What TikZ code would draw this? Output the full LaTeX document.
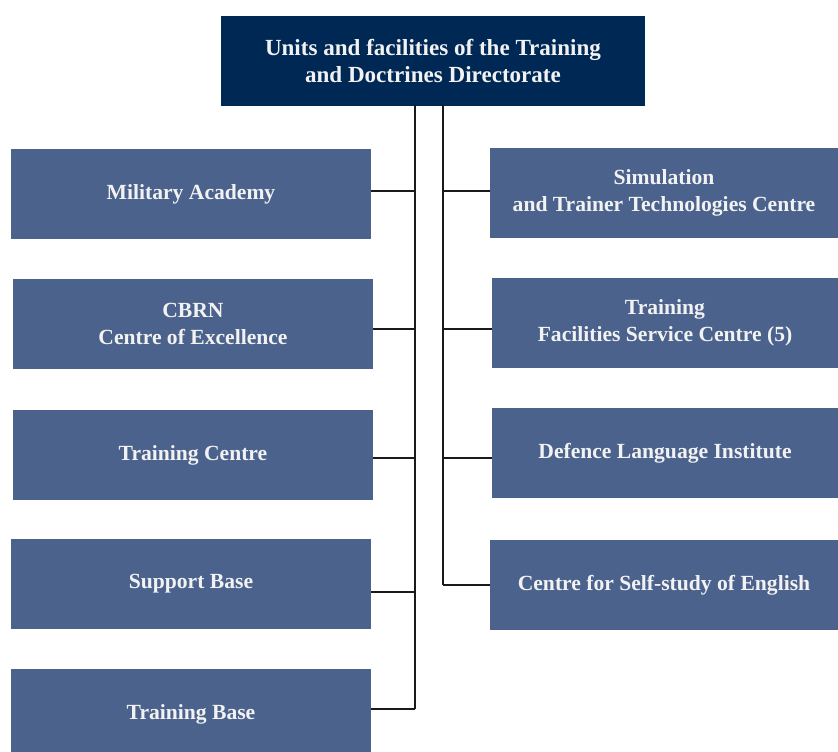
\documentclass[tikz,border=0pt]{standalone}
\usepackage{fontspec}
\setmainfont{Liberation Serif}
\definecolor{navy}{HTML}{002855}
\definecolor{boxblue}{HTML}{4A628C}
\definecolor{linec}{HTML}{1A1A1A}
\definecolor{txt}{HTML}{F2F2F2}
\begin{document}
\begin{tikzpicture}[x=0.75pt,y=-0.75pt,
  unitbox/.style={rectangle, fill=boxblue, inner sep=0pt, text=txt, align=center,
    font=\fontsize{16.2}{20}\selectfont\bfseries},
  topbox/.style={unitbox, fill=navy, font=\fontsize{17.3}{20}\selectfont\bfseries},
  conn/.style={draw=linec, line width=0.8pt}]
\useasboundingbox (0,0) rectangle (838,751);
% top
\node[topbox, minimum width=424*0.75pt, minimum height=90*0.75pt] (top) at (433,61)
  {Units and facilities of the Training\\and Doctrines Directorate};
% left column
\node[unitbox, minimum width=360*0.75pt, minimum height=90*0.75pt] (ma) at (191,194) {Military Academy};
\node[unitbox, minimum width=360*0.75pt, minimum height=90*0.75pt] (cb) at (193,324) {CBRN\\Centre of Excellence};
\node[unitbox, minimum width=360*0.75pt, minimum height=90*0.75pt] (tc) at (193,455) {Training Centre};
\node[unitbox, minimum width=360*0.75pt, minimum height=90*0.75pt] (sb) at (191,584) {Support Base};
\node[unitbox, minimum width=360*0.75pt, minimum height=90*0.75pt] (tb) at (191,714) {Training Base};
% right column
\node[unitbox, minimum width=348*0.75pt, minimum height=90*0.75pt] (st) at (664,193) {Simulation\\and Trainer Technologies Centre};
\node[unitbox, minimum width=346*0.75pt, minimum height=90*0.75pt] (tf) at (665,323) {Training\\Facilities Service Centre (5)};
\node[unitbox, minimum width=346*0.75pt, minimum height=90*0.75pt] (dl) at (665,453) {Defence Language Institute};
\node[unitbox, minimum width=348*0.75pt, minimum height=90*0.75pt] (se) at (664,585) {Centre for Self-study of English};
% trunks
\coordinate (lt) at (415,105);
\coordinate (rt) at (443,105);
\coordinate (l1) at (415,191);
\coordinate (l2) at (415,329);
\coordinate (l3) at (415,458);
\coordinate (l4) at (415,592);
\coordinate (l5) at (415,709);
\coordinate (r1) at (443,191);
\coordinate (r2) at (443,329);
\coordinate (r3) at (443,458);
\coordinate (r4) at (443,585);
\draw[conn] (lt) -- (l5);
\draw[conn] (rt) -- (r4);
\draw[conn] (l1) -- (l1 -| ma.east);
\draw[conn] (l2) -- (l2 -| cb.east);
\draw[conn] (l3) -- (l3 -| tc.east);
\draw[conn] (l4) -- (l4 -| sb.east);
\draw[conn] (l5) -- (l5 -| tb.east);
\draw[conn] (r1) -- (r1 -| st.west);
\draw[conn] (r2) -- (r2 -| tf.west);
\draw[conn] (r3) -- (r3 -| dl.west);
\draw[conn] (r4) -- (r4 -| se.west);
\end{tikzpicture}
\end{document}
